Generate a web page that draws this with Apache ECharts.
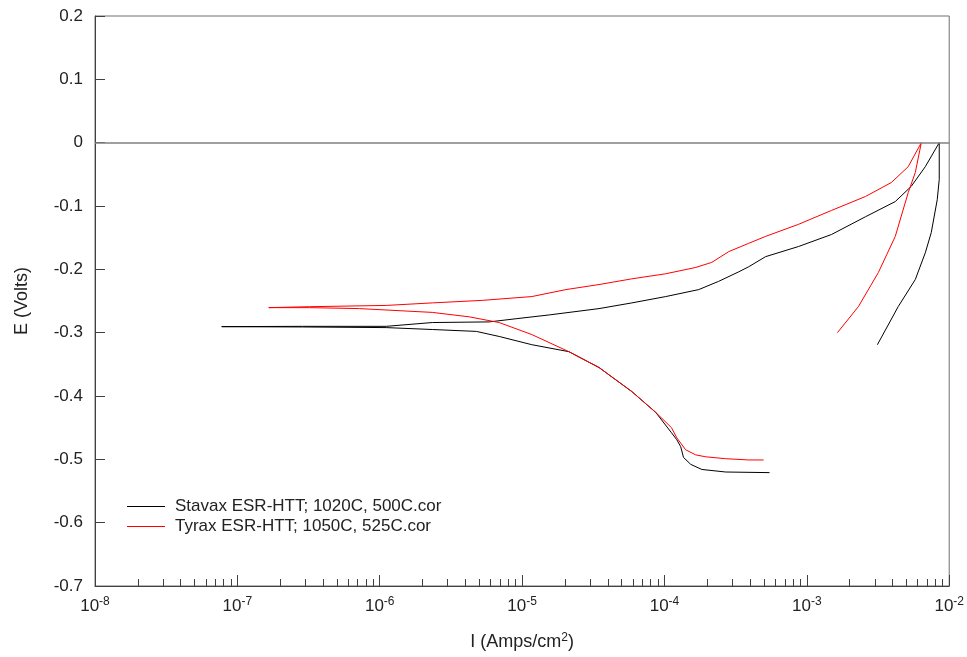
<!DOCTYPE html>
<html>
<head>
<meta charset="utf-8">
<style>
  html, body { margin: 0; padding: 0; background: #fff; }
  #chart { width: 967px; height: 657px; }
</style>
<script src="https://cdn.jsdelivr.net/npm/echarts@6/dist/echarts.min.js"></script>
</head>
<body>
<div id="chart"></div>
<script>
// Stavax ESR-HTT; 1020C, 500C  (scan order: cathodic -> Ecorr -> anodic -> reverse)
var stavaxI = [5.47e-4, 2.69e-4, 1.83e-4, 1.53e-4, 1.36e-4, 1.30e-4, 1.22e-4, 1.12e-4, 8.69e-5, 5.90e-5,
               3.47e-5, 2.13e-5, 1.17e-5, 6.90e-6, 4.77e-6, 2.34e-6, 1.11e-6, 2.87e-7, 7.76e-8,
               2.87e-7, 1.11e-6, 2.34e-6, 5.88e-6, 9.08e-6, 1.55e-5, 3.47e-5, 5.90e-5, 1.02e-4, 1.74e-4,
               2.40e-4, 3.32e-4, 3.90e-4, 5.13e-4, 8.73e-4, 1.49e-3, 2.58e-3, 4.18e-3, 5.41e-3, 6.79e-3, 8.51e-3,
               8.51e-3, 8.24e-3, 7.48e-3, 6.79e-3, 5.78e-3, 4.38e-3, 3.13e-3];
var stavaxE = [-0.521, -0.520, -0.516, -0.508, -0.497, -0.480, -0.469, -0.458, -0.426, -0.393,
               -0.355, -0.330, -0.319, -0.306, -0.298, -0.295, -0.292, -0.291, -0.2905,
               -0.290, -0.290, -0.284, -0.283, -0.278, -0.272, -0.262, -0.253, -0.243, -0.232,
               -0.219, -0.204, -0.196, -0.180, -0.164, -0.145, -0.117, -0.093, -0.069, -0.038, 0.000,
               -0.058, -0.090, -0.142, -0.174, -0.216, -0.259, -0.319];

// Tyrax ESR-HTT; 1050C, 525C
var tyraxI = [4.97e-4, 3.90e-4, 2.69e-4, 1.95e-4, 1.66e-4, 1.41e-4, 1.22e-4, 1.12e-4, 8.69e-5, 5.90e-5,
              3.47e-5, 2.13e-5, 1.17e-5, 6.90e-6, 4.25e-6, 2.34e-6, 7.19e-7, 3.21e-7, 1.66e-7,
              3.21e-7, 1.11e-6, 2.34e-6, 5.25e-6, 1.17e-5, 2.03e-5, 3.47e-5, 5.90e-5, 1.02e-4, 1.66e-4,
              2.15e-4, 2.83e-4, 3.90e-4, 5.13e-4, 8.73e-4, 1.49e-3, 2.58e-3, 3.92e-3, 5.15e-3, 6.37e-3,
              5.78e-3, 5.15e-3, 4.18e-3, 3.18e-3, 2.30e-3, 1.64e-3];
var tyraxE = [-0.501, -0.501, -0.499, -0.496, -0.493, -0.485, -0.466, -0.450, -0.426, -0.393,
              -0.355, -0.330, -0.303, -0.284, -0.275, -0.268, -0.262, -0.2605, -0.2605,
              -0.259, -0.257, -0.253, -0.249, -0.243, -0.232, -0.224, -0.215, -0.207, -0.197,
              -0.189, -0.172, -0.159, -0.148, -0.129, -0.107, -0.085, -0.063, -0.038, 0.000,
              -0.047, -0.079, -0.148, -0.205, -0.259, -0.300];

var seriesNames = ['Stavax ESR-HTT; 1020C, 500C.cor', 'Tyrax ESR-HTT; 1050C, 525C.cor'];

// axis ticks
var xMajor = [1e-8, 1e-7, 1e-6, 1e-5, 1e-4, 1e-3, 1e-2];
var xMinorSteps = [2, 3, 4, 5, 6, 7, 8, 9];
var xMinor = [];
xMajor.slice(0, -1).forEach(function (d) {
    xMinorSteps.forEach(function (m) { xMinor.push(m * d); });
});

function zip(a, b) {
    return a.map(function (v, i) { return [v, b[i]]; });
}

var myChart = echarts.init(document.getElementById('chart'));

var axisColor = '#404040';
var fontFam = 'Liberation Sans, Arial, sans-serif';

option = {
    backgroundColor: '#ffffff',
    animation: false,
    grid: {
        left: 95, right: 15, top: 16, bottom: 71,
        show: true,
        borderColor: '#707070',
        borderWidth: 1
    },
    legend: {
        orient: 'vertical',
        left: 127,
        top: 498,
        padding: 0,
        icon: 'rect',
        itemWidth: 38,
        itemHeight: 1,
        itemGap: 3,
        data: seriesNames,
        textStyle: { fontSize: 17, lineHeight: 17, color: '#222', fontFamily: fontFam, padding: [0, 0, 0, 5] }
    },
    xAxis: [
        {
            type: 'log',
            logBase: 10,
            min: 1e-8,
            max: 1e-2,
            name: '{a|I (Amps/cm}{s|2}{a|)}',
            nameLocation: 'middle',
            nameGap: 46,
            nameTextStyle: {
                rich: {
                    a: { fontSize: 18, color: '#222', fontFamily: fontFam },
                    s: { fontSize: 12, color: '#222', fontFamily: fontFam, verticalAlign: 'top', padding: [0, 0, 8, 0] }
                }
            },
            axisLine: { onZero: false, lineStyle: { color: axisColor, width: 1 } },
            axisTick: { inside: true, length: 11, customValues: xMajor, lineStyle: { color: axisColor } },
            axisLabel: {
                customValues: xMajor,
                margin: 10,
                formatter: function (v) {
                    return '{b|10}{s|' + Math.round(Math.log10(v)) + '}';
                },
                rich: {
                    b: { fontSize: 17, color: '#222', fontFamily: fontFam },
                    s: { fontSize: 12, color: '#222', fontFamily: fontFam, verticalAlign: 'top', padding: [0, 0, 8, 0] }
                }
            },
            splitLine: { show: false }
        },
        {
            type: 'log',
            logBase: 10,
            min: 1e-8,
            max: 1e-2,
            position: 'bottom',
            axisLine: { show: false, onZero: false },
            axisTick: { inside: true, length: 7, customValues: xMinor, lineStyle: { color: axisColor } },
            axisLabel: { show: false },
            splitLine: { show: false }
        }
    ],
    yAxis: {
        type: 'value',
        min: -0.7,
        max: 0.2,
        interval: 0.1,
        name: 'E (Volts)',
        nameLocation: 'middle',
        nameGap: 64,
        nameTextStyle: { fontSize: 18, color: '#222', fontFamily: fontFam },
        axisLine: { show: true, onZero: false, lineStyle: { color: axisColor, width: 1 } },
        axisTick: { show: true, inside: true, length: 10, lineStyle: { color: axisColor } },
        axisLabel: {
            fontSize: 17,
            color: '#222',
            fontFamily: fontFam,
            margin: 12,
            formatter: function (v) {
                return Math.abs(v) < 1e-9 ? '0' : v.toFixed(1);
            }
        },
        splitLine: { show: false }
    },
    color: ['#000000', '#ff0000'],
    series: [
        {
            name: seriesNames[0],
            type: 'line',
            symbol: 'none',
            lineStyle: { width: 1, color: '#000000' },
            data: zip(stavaxI, stavaxE),
            markLine: {
                silent: true,
                symbol: 'none',
                label: { show: false },
                lineStyle: { color: '#808080', width: 1.5, type: 'solid' },
                data: [{ yAxis: 0 }]
            }
        },
        {
            name: seriesNames[1],
            type: 'line',
            symbol: 'none',
            lineStyle: { width: 1, color: '#ff0000' },
            data: zip(tyraxI, tyraxE)
        }
    ]
};

myChart.setOption(option);
</script>
</body>
</html>
